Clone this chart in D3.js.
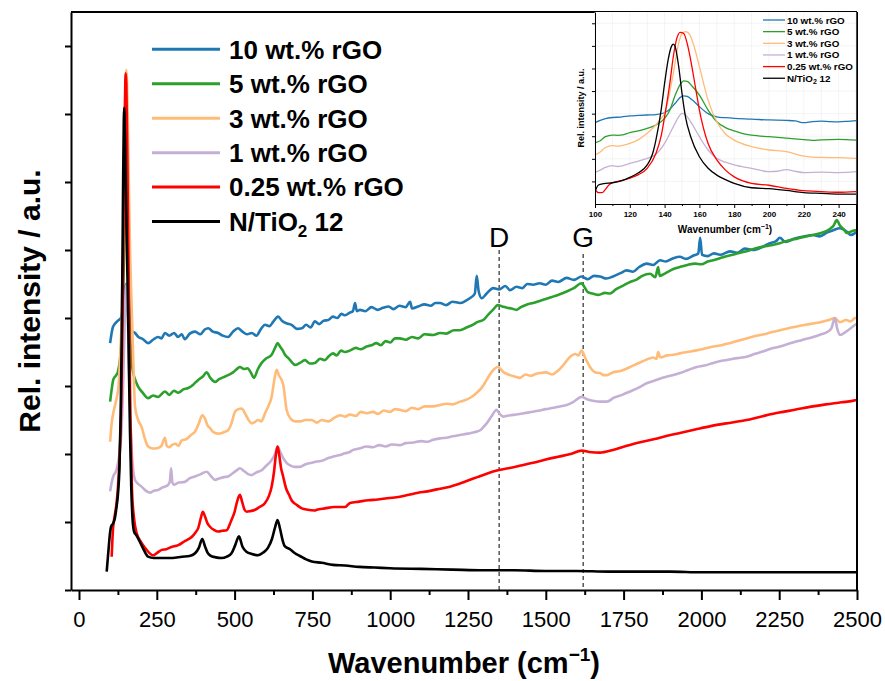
<!DOCTYPE html>
<html><head><meta charset="utf-8">
<script src="https://cdn.jsdelivr.net/npm/d3@7"></script>
<style>body{margin:0;background:#fff}svg{display:block}text{font-family:"Liberation Sans",Arial,Helvetica,sans-serif}</style>
</head><body><svg id="c" width="885" height="681"></svg>
<script>
// ---------------- DATA ----------------
const seriesNames = ["10 wt.% rGO","5 wt.% rGO","3 wt.% rGO","1 wt.% rGO","0.25 wt.% rGO","N/TiO2 12"];
const seriesColors = ["#1f77b4","#2ca02c","#ffbb78","#c5b0d5","#ff0000","#000000"];
const xTicks = [0,250,500,750,1000,1250,1500,1750,2000,2250,2500];
const xMinorTicks = [125,375,625,875,1125,1375,1625,1875,2125,2375];
const yTicks = [0,1,2,3,4,5,6,7,8];
const bandPositions = [1350,1620];
const bandLabels = ["D","G"];
const insetXTicks = [100,120,140,160,180,200,220,240];
const insetXMinorTicks = [110,130,150,170,190,210,230,250];
const insetYTicks = [1,2,3,4,5,6,7,8];

// main spectra: [wavenumber, relative intensity]
const spec10 = [[100,3.63],[108,3.85],[116,3.92],[125,3.96],[135,4.0],[142,4.2],[148,4.45],[152,4.5],[156,4.4],[161,4.1],[169,3.82],[180,3.78],[191,3.72],[205,3.69],[222,3.63],[238,3.68],[254,3.72],[265,3.7],[276,3.78],[290,3.74],[306,3.78],[318,3.72],[330,3.76],[340,3.69],[356,3.77],[373,3.8],[390,3.76],[404,3.83],[415,3.85],[430,3.8],[447,3.78],[462,3.74],[479,3.72],[495,3.8],[511,3.85],[525,3.8],[540,3.76],[555,3.78],[570,3.74],[585,3.84],[598,3.9],[612,3.88],[625,3.95],[640,4.02],[652,3.96],[668,3.92],[683,3.9],[700,3.84],[716,3.85],[730,3.9],[744,3.86],[758,3.95],[772,3.91],[786,3.96],[801,3.97],[816,4.02],[830,4.0],[843,4.06],[855,4.04],[870,4.08],[880,4.1],[887,4.22],[893,4.1],[903,4.12],[920,4.1],[940,4.16],[960,4.12],[977,4.15],[995,4.17],[1010,4.13],[1030,4.18],[1050,4.16],[1064,4.24],[1070,4.14],[1090,4.17],[1110,4.2],[1130,4.18],[1145,4.22],[1160,4.22],[1180,4.19],[1200,4.24],[1224,4.22],[1245,4.26],[1262,4.31],[1272,4.36],[1278,4.62],[1284,4.4],[1294,4.29],[1310,4.36],[1331,4.44],[1350,4.42],[1370,4.47],[1385,4.41],[1406,4.46],[1425,4.44],[1440,4.5],[1459,4.49],[1480,4.51],[1500,4.49],[1520,4.55],[1540,4.53],[1567,4.59],[1590,4.56],[1615,4.61],[1635,4.57],[1655,4.62],[1674,4.61],[1695,4.58],[1716,4.61],[1740,4.66],[1760,4.7],[1780,4.68],[1800,4.75],[1824,4.8],[1845,4.78],[1867,4.85],[1885,4.83],[1910,4.88],[1931,4.9],[1950,4.87],[1975,4.92],[1990,4.95],[1996,5.18],[2002,4.93],[2020,4.91],[2040,4.95],[2060,4.93],[2092,4.98],[2115,4.96],[2140,5.02],[2165,5.0],[2198,5.05],[2220,5.1],[2240,5.13],[2252,5.18],[2270,5.12],[2300,5.17],[2330,5.2],[2359,5.22],[2380,5.2],[2405,5.26],[2423,5.29],[2445,5.32],[2467,5.27],[2480,5.22],[2494,5.25],[2500,5.27]];
const spec5 = [[100,2.77],[105,2.95],[110,3.09],[118,3.15],[125,3.21],[132,3.4],[138,3.8],[143,4.6],[147,5.4],[150,5.8],[153,5.85],[156,5.4],[160,4.5],[165,3.7],[172,3.25],[180,3.1],[190,2.99],[205,2.9],[222,2.82],[238,2.86],[254,2.84],[265,2.88],[276,2.92],[290,2.87],[305,2.93],[319,2.9],[335,2.95],[351,2.97],[367,3.02],[383,3.09],[398,3.14],[410,3.2],[422,3.12],[437,3.06],[450,3.1],[465,3.13],[479,3.16],[495,3.2],[510,3.26],[517,3.28],[530,3.25],[541,3.26],[552,3.2],[562,3.12],[575,3.25],[587,3.34],[600,3.4],[619,3.46],[630,3.56],[638,3.63],[646,3.58],[655,3.52],[662,3.46],[675,3.4],[694,3.31],[710,3.34],[726,3.38],[742,3.33],[758,3.34],[775,3.4],[790,3.38],[801,3.43],[816,3.48],[828,3.45],[842,3.52],[855,3.5],[870,3.52],[890,3.56],[905,3.54],[924,3.58],[940,3.6],[955,3.63],[970,3.6],[985,3.66],[1000,3.64],[1015,3.7],[1031,3.7],[1050,3.68],[1070,3.72],[1090,3.7],[1110,3.76],[1138,3.75],[1160,3.78],[1180,3.77],[1205,3.82],[1224,3.82],[1245,3.86],[1265,3.9],[1280,3.94],[1299,3.97],[1315,4.05],[1330,4.12],[1346,4.19],[1360,4.17],[1375,4.15],[1390,4.14],[1406,4.12],[1420,4.16],[1440,4.2],[1459,4.22],[1480,4.25],[1500,4.28],[1520,4.31],[1545,4.35],[1567,4.39],[1590,4.44],[1615,4.51],[1625,4.45],[1635,4.38],[1650,4.36],[1670,4.34],[1690,4.37],[1706,4.36],[1725,4.42],[1750,4.48],[1771,4.53],[1790,4.56],[1810,4.62],[1835,4.65],[1852,4.6],[1861,4.75],[1866,4.62],[1885,4.66],[1910,4.72],[1931,4.75],[1955,4.78],[1980,4.8],[2000,4.79],[2020,4.83],[2038,4.85],[2060,4.88],[2090,4.92],[2115,4.95],[2145,4.98],[2170,5.02],[2200,5.05],[2225,5.07],[2252,5.1],[2280,5.14],[2310,5.17],[2335,5.2],[2359,5.22],[2385,5.25],[2410,5.3],[2425,5.36],[2435,5.44],[2445,5.36],[2458,5.3],[2467,5.25],[2480,5.27],[2494,5.29],[2500,5.3]];
const spec3 = [[100,2.18],[105,2.45],[110,2.6],[115,2.7],[120,2.8],[127,3.0],[132,3.4],[137,4.0],[141,4.9],[145,6.0],[148,7.0],[150,7.5],[152,7.65],[154,7.5],[157,6.9],[160,6.0],[164,5.0],[169,4.2],[175,3.3],[180,2.7],[190,2.5],[201,2.4],[212,2.22],[222,2.11],[238,2.08],[254,2.09],[265,2.12],[276,2.24],[282,2.12],[290,2.1],[298,2.13],[310,2.15],[320,2.12],[330,2.2],[345,2.22],[360,2.28],[373,2.33],[385,2.45],[396,2.57],[405,2.52],[413,2.42],[421,2.38],[432,2.32],[447,2.3],[460,2.31],[470,2.33],[479,2.35],[490,2.45],[501,2.62],[512,2.66],[523,2.67],[533,2.6],[545,2.5],[555,2.45],[565,2.47],[575,2.5],[586,2.48],[598,2.6],[608,2.7],[619,2.84],[628,3.1],[635,3.24],[643,3.15],[651,3.09],[657,3.0],[667,2.65],[680,2.52],[694,2.48],[710,2.48],[728,2.5],[748,2.5],[764,2.46],[780,2.5],[801,2.48],[820,2.53],[839,2.57],[855,2.55],[870,2.58],[890,2.56],[905,2.62],[924,2.6],[945,2.62],[960,2.59],[980,2.64],[1000,2.62],[1015,2.66],[1031,2.65],[1050,2.63],[1070,2.68],[1090,2.66],[1110,2.7],[1138,2.7],[1160,2.72],[1180,2.74],[1200,2.73],[1224,2.77],[1245,2.8],[1265,2.85],[1278,2.9],[1295,2.98],[1310,3.09],[1325,3.2],[1346,3.28],[1365,3.2],[1385,3.16],[1400,3.14],[1417,3.12],[1435,3.17],[1450,3.15],[1470,3.18],[1481,3.19],[1500,3.2],[1520,3.17],[1535,3.21],[1555,3.3],[1578,3.43],[1595,3.47],[1605,3.45],[1615,3.52],[1628,3.4],[1642,3.28],[1660,3.2],[1674,3.19],[1685,3.16],[1696,3.16],[1715,3.2],[1740,3.22],[1771,3.28],[1795,3.33],[1820,3.38],[1845,3.42],[1856,3.4],[1861,3.5],[1868,3.42],[1890,3.45],[1910,3.46],[1931,3.48],[1955,3.5],[1980,3.52],[2010,3.55],[2038,3.58],[2065,3.6],[2090,3.63],[2115,3.66],[2145,3.7],[2170,3.73],[2200,3.76],[2225,3.79],[2252,3.82],[2280,3.85],[2310,3.88],[2335,3.9],[2359,3.92],[2385,3.94],[2410,3.97],[2429,4.0],[2445,3.94],[2465,3.97],[2480,3.95],[2494,4.0],[2500,4.0]];
const spec1 = [[100,1.45],[105,1.58],[110,1.67],[120,1.76],[130,2.0],[136,2.3],[141,2.9],[145,3.6],[149,4.3],[152,4.5],[155,4.3],[159,3.6],[164,2.7],[170,2.0],[180,1.62],[190,1.56],[201,1.52],[212,1.47],[228,1.43],[240,1.46],[254,1.47],[265,1.5],[276,1.52],[287,1.55],[292,1.6],[296,1.79],[300,1.58],[305,1.55],[320,1.58],[340,1.59],[355,1.64],[373,1.67],[390,1.7],[410,1.74],[425,1.67],[437,1.62],[450,1.64],[465,1.66],[479,1.67],[495,1.72],[510,1.77],[517,1.79],[530,1.75],[545,1.7],[555,1.69],[570,1.73],[587,1.76],[600,1.82],[619,1.91],[630,2.0],[638,2.11],[646,2.04],[655,1.95],[667,1.87],[680,1.83],[694,1.81],[710,1.81],[728,1.85],[748,1.87],[764,1.89],[780,1.9],[801,1.94],[816,1.96],[835,1.98],[855,2.01],[870,2.03],[881,2.06],[900,2.08],[924,2.11],[945,2.1],[965,2.13],[985,2.11],[1005,2.14],[1031,2.13],[1050,2.16],[1075,2.17],[1100,2.19],[1120,2.18],[1138,2.21],[1160,2.23],[1180,2.24],[1200,2.26],[1224,2.28],[1250,2.3],[1270,2.32],[1289,2.35],[1300,2.4],[1310,2.45],[1325,2.55],[1342,2.65],[1350,2.6],[1364,2.55],[1385,2.57],[1405,2.58],[1430,2.6],[1459,2.62],[1480,2.64],[1500,2.66],[1525,2.68],[1545,2.7],[1567,2.72],[1590,2.77],[1615,2.84],[1635,2.8],[1655,2.78],[1674,2.77],[1696,2.77],[1720,2.83],[1745,2.87],[1771,2.92],[1800,2.98],[1824,3.04],[1850,3.08],[1875,3.12],[1900,3.15],[1931,3.19],[1960,3.24],[1985,3.28],[2010,3.3],[2038,3.34],[2065,3.37],[2090,3.39],[2115,3.41],[2145,3.43],[2170,3.47],[2200,3.51],[2225,3.55],[2252,3.58],[2280,3.62],[2310,3.66],[2335,3.69],[2359,3.72],[2385,3.76],[2407,3.8],[2418,3.85],[2429,4.0],[2436,3.85],[2445,3.75],[2465,3.8],[2480,3.85],[2494,3.9],[2500,3.92]];
const spec025 = [[105,0.49],[109,0.88],[115,1.1],[120,1.25],[125,1.5],[130,1.9],[135,2.6],[140,4.0],[143,5.3],[146,6.7],[149,7.5],[150,7.6],[152,7.45],[155,6.5],[158,5.2],[161,4.0],[165,2.6],[170,1.5],[177,1.05],[185,0.84],[200,0.7],[212,0.62],[225,0.55],[238,0.51],[252,0.55],[266,0.59],[280,0.6],[295,0.63],[319,0.66],[340,0.72],[362,0.78],[375,0.85],[383,0.91],[391,1.05],[398,1.15],[405,1.08],[413,0.98],[421,0.93],[435,0.88],[447,0.86],[460,0.87],[475,0.88],[483,0.95],[490,1.03],[500,1.15],[508,1.3],[517,1.4],[524,1.3],[532,1.18],[539,1.15],[550,1.16],[566,1.18],[580,1.22],[598,1.28],[610,1.38],[619,1.52],[627,1.75],[633,2.0],[638,2.11],[643,2.0],[649,1.8],[656,1.67],[665,1.5],[675,1.4],[683,1.32],[700,1.25],[716,1.2],[735,1.18],[758,1.17],[764,1.18],[790,1.2],[820,1.22],[855,1.22],[871,1.28],[900,1.3],[930,1.32],[960,1.33],[990,1.35],[1031,1.37],[1060,1.4],[1090,1.43],[1120,1.45],[1150,1.48],[1192,1.52],[1220,1.56],[1250,1.61],[1280,1.66],[1310,1.71],[1346,1.76],[1380,1.79],[1420,1.83],[1459,1.87],[1500,1.92],[1540,1.96],[1580,2.0],[1615,2.05],[1640,2.03],[1674,2.02],[1716,2.06],[1760,2.12],[1800,2.17],[1850,2.22],[1890,2.27],[1931,2.31],[1980,2.36],[2030,2.41],[2080,2.45],[2145,2.5],[2200,2.56],[2250,2.61],[2300,2.65],[2359,2.7],[2400,2.73],[2450,2.76],[2494,2.79],[2500,2.8]];
const specN12 = [[89,0.27],[95,0.6],[100,0.85],[103,0.93],[110,0.98],[115,1.05],[120,1.2],[125,1.4],[130,1.8],[134,2.6],[137,3.6],[140,5.0],[142,6.1],[144,6.9],[145,7.09],[146,7.0],[148,6.6],[151,5.8],[154,5.0],[157,4.3],[160,3.4],[164,2.3],[168,1.5],[172,1.05],[177,0.86],[185,0.8],[190,0.76],[205,0.62],[222,0.49],[240,0.47],[266,0.47],[300,0.47],[331,0.49],[355,0.5],[373,0.54],[385,0.62],[396,0.75],[405,0.64],[413,0.55],[421,0.51],[440,0.48],[458,0.47],[475,0.49],[490,0.54],[502,0.66],[514,0.79],[525,0.64],[539,0.56],[555,0.53],[575,0.51],[592,0.55],[607,0.62],[620,0.75],[630,0.92],[638,1.03],[646,0.9],[655,0.72],[662,0.64],[678,0.6],[694,0.54],[710,0.5],[730,0.45],[748,0.42],[780,0.4],[816,0.37],[855,0.36],[900,0.34],[950,0.33],[1000,0.32],[1100,0.31],[1200,0.3],[1300,0.29],[1400,0.29],[1500,0.28],[1600,0.28],[1700,0.27],[1800,0.27],[1900,0.27],[2000,0.26],[2100,0.26],[2200,0.26],[2300,0.26],[2400,0.26],[2500,0.26]];

// inset (100-250 cm-1) spectra
const inset10 = [[100,3.6],[103,3.7],[106,3.78],[110,3.83],[115,3.85],[120,3.9],[125,3.92],[130,3.94],[135,3.96],[140,4.04],[143,4.2],[146,4.45],[149,4.72],[151,4.79],[153,4.76],[156,4.6],[160,4.31],[165,4.0],[170,3.86],[175,3.82],[180,3.79],[190,3.76],[200,3.72],[210,3.7],[215,3.68],[220,3.6],[225,3.65],[230,3.67],[235,3.65],[240,3.64],[245,3.66],[250,3.69]];
const inset5 = [[100,2.71],[103,2.8],[106,2.98],[110,3.05],[113,3.04],[116,3.06],[120,3.16],[125,3.24],[130,3.35],[135,3.5],[140,3.79],[143,4.15],[146,4.8],[149,5.3],[151,5.45],[153,5.43],[156,5.2],[160,4.82],[165,4.16],[170,3.64],[175,3.38],[180,3.24],[185,3.12],[190,3.05],[200,2.98],[210,2.92],[220,2.85],[225,2.82],[230,2.84],[240,2.86],[250,2.83]];
const inset3 = [[100,2.17],[103,2.3],[106,2.5],[110,2.58],[113,2.56],[116,2.6],[120,2.68],[125,2.85],[130,3.13],[135,3.5],[138,3.8],[140,4.01],[142,4.6],[145,5.78],[148,7.1],[150,7.55],[152,7.63],[154,7.55],[157,6.96],[160,6.08],[165,4.6],[170,3.64],[175,3.1],[180,2.83],[190,2.54],[200,2.39],[210,2.32],[220,2.12],[230,2.06],[240,2.05],[250,2.02]];
const inset1 = [[100,1.4],[103,1.5],[106,1.62],[110,1.7],[113,1.66],[116,1.7],[120,1.8],[125,1.9],[130,2.02],[135,2.2],[140,2.68],[145,3.42],[148,3.85],[150,4.01],[152,3.95],[155,3.64],[160,2.98],[165,2.39],[170,2.02],[175,1.85],[180,1.73],[190,1.58],[200,1.43],[205,1.45],[210,1.52],[215,1.45],[220,1.39],[230,1.41],[240,1.39],[250,1.43]];
const inset025 = [[100,0.65],[102,0.5],[104,0.5],[106,0.65],[108,0.84],[110,0.94],[115,1.03],[120,1.14],[125,1.3],[130,1.58],[135,2.24],[138,3.0],[140,3.86],[143,5.34],[145,6.52],[147,7.33],[149,7.6],[151,7.55],[153,7.1],[155,6.37],[158,5.04],[160,4.16],[165,2.68],[170,1.95],[175,1.5],[180,1.2],[185,1.02],[190,0.91],[200,0.83],[210,0.69],[220,0.59],[230,0.55],[240,0.52],[250,0.55]];
const insetN12 = [[100,0.55],[102,0.84],[105,0.9],[110,0.94],[115,1.02],[120,1.18],[125,1.38],[130,1.73],[133,2.2],[135,2.83],[138,4.16],[140,5.34],[142,6.37],[144,6.99],[145,7.08],[146,6.98],[148,6.14],[150,4.9],[152,3.86],[155,2.98],[160,2.09],[165,1.58],[170,1.28],[175,1.08],[180,0.91],[190,0.72],[200,0.68],[210,0.6],[220,0.5],[230,0.47],[240,0.44],[250,0.44]];

const mainSpectra = [spec10, spec5, spec3, spec1, spec025, specN12];
const insetSpectra = [inset10, inset5, inset3, inset1, inset025, insetN12];

// ---------------- DRAW ----------------
const svg = d3.select("#c");
const FF = '"Liberation Sans",Arial,Helvetica,sans-serif';
const x = d3.scaleLinear().domain([-25.7, 2500]).range([71, 857]);
const y = d3.scaleLinear().domain([0, 8.5]).range([590, 12]);

// D / G guide lines
bandPositions.forEach((b, i) => {
  const top = i === 0 ? 250 : 254;
  svg.append("line").attr("x1", x(b)).attr("x2", x(b)).attr("y1", top).attr("y2", y(0))
    .attr("stroke", "#000").attr("stroke-width", 1).attr("stroke-dasharray", "4,3");
  svg.append("text").attr("x", x(b)).attr("y", 247).attr("text-anchor", "middle")
    .attr("font-size", 28).attr("fill", "#000").text(bandLabels[i]);
});

const line = d3.line().x(d => x(d[0])).y(d => y(d[1])).curve(d3.curveMonotoneX);
mainSpectra.forEach((s, i) => {
  svg.append("path").datum(s).attr("d", line).attr("fill", "none")
    .attr("stroke", seriesColors[i]).attr("stroke-width", 2.6).attr("stroke-linejoin", "round");
});

// axes
const gx = svg.append("g").attr("transform", `translate(0,${y(0)})`)
  .call(d3.axisBottom(x).tickValues(xTicks).tickSize(10).tickSizeOuter(0).tickPadding(11).tickFormat(d3.format("d")));
gx.attr("font-family", FF);
gx.selectAll("text").attr("font-size", 22).attr("fill", "#000");
gx.selectAll("line").attr("stroke", "#000").attr("stroke-width", 2);
gx.select(".domain").attr("stroke", "#000").attr("stroke-width", 2);
const gxm = svg.append("g").attr("transform", `translate(0,${y(0)})`)
  .call(d3.axisBottom(x).tickValues(xMinorTicks).tickSize(5).tickSizeOuter(0).tickFormat(""));
gxm.selectAll("line").attr("stroke", "#000").attr("stroke-width", 2);
gxm.select(".domain").remove();

const gy = svg.append("g").attr("transform", `translate(${x.range()[0]},0)`)
  .call(d3.axisLeft(y).tickValues(yTicks).tickSize(6).tickSizeOuter(0).tickFormat(""));
gy.selectAll("line").attr("stroke", "#000").attr("stroke-width", 2);
gy.select(".domain").attr("stroke", "#000").attr("stroke-width", 2);
// frame top and right
svg.append("line").attr("x1", x.range()[0]).attr("x2", x.range()[1]).attr("y1", y(8.5)).attr("y2", y(8.5)).attr("stroke", "#000").attr("stroke-width", 2);
svg.append("line").attr("x1", x.range()[1]).attr("x2", x.range()[1]).attr("y1", y(8.5)).attr("y2", y(0)).attr("stroke", "#000").attr("stroke-width", 2);

// axis titles
const xt = svg.append("text").attr("x", 464).attr("y", 673).attr("text-anchor", "middle")
  .attr("font-size", 29).attr("font-weight", "bold").attr("fill", "#000");
xt.append("tspan").text("Wavenumber (cm");
xt.append("tspan").attr("font-size", 19).attr("dy", -12).text("\u22121");
xt.append("tspan").attr("dy", 12).text(")");
svg.append("text").attr("transform", "translate(40,301) rotate(-90)").attr("text-anchor", "middle")
  .attr("font-size", 30).attr("font-weight", "bold").attr("fill", "#000").text("Rel. intensity / a.u.");

// legend helper
function legend(g, x0, x1, tx, y0, dy, fs, sw, subFs, subDy) {
  seriesNames.forEach((n, i) => {
    const yy = y0 + i * dy;
    g.append("line").attr("x1", x0).attr("x2", x1).attr("y1", yy).attr("y2", yy)
      .attr("stroke", seriesColors[i]).attr("stroke-width", sw);
    const t = g.append("text").attr("x", tx).attr("y", yy + fs * 0.36).attr("font-size", fs)
      .attr("font-weight", "bold").attr("fill", "#000");
    const m = n.match(/^(N\/TiO)2( 12)$/);
    if (m) {
      t.append("tspan").text(m[1]);
      t.append("tspan").attr("font-size", subFs).attr("dy", subDy).text("2");
      t.append("tspan").attr("dy", -subDy).text(m[2]);
    } else t.text(n);
  });
}
legend(svg, 152, 220, 229, 49.3, 34.45, 26, 3, 17, 6);

// ---------------- INSET ----------------
const ix = d3.scaleLinear().domain([100, 250]).range([595, 856]);
const iy = d3.scaleLinear().domain([0, 8.5]).range([204, 12]);
svg.append("rect").attr("x", ix(100)).attr("y", iy(8.5)).attr("width", ix(250) - ix(100)).attr("height", iy(0) - iy(8.5)).attr("fill", "#fff");
const grid = svg.append("g");
insetXTicks.concat(insetXMinorTicks).forEach(t => {
  grid.append("line").attr("x1", ix(t)).attr("x2", ix(t)).attr("y1", iy(0)).attr("y2", iy(8.5)).attr("stroke", "#ececec").attr("stroke-width", 0.6);
});
insetYTicks.forEach(t => {
  grid.append("line").attr("x1", ix(100)).attr("x2", ix(250)).attr("y1", iy(t)).attr("y2", iy(t)).attr("stroke", "#ececec").attr("stroke-width", 0.6);
});
svg.append("clipPath").attr("id", "ic").append("rect").attr("x", ix(100)).attr("y", iy(8.5)).attr("width", ix(250) - ix(100)).attr("height", iy(0) - iy(8.5));
const iline = d3.line().x(d => ix(d[0])).y(d => iy(d[1])).curve(d3.curveMonotoneX);
const ig = svg.append("g").attr("clip-path", "url(#ic)");
insetSpectra.forEach((s, i) => {
  ig.append("path").datum(s).attr("d", iline).attr("fill", "none")
    .attr("stroke", seriesColors[i]).attr("stroke-width", 1.3);
});
const igx = svg.append("g").attr("transform", `translate(0,${iy(0)})`)
  .call(d3.axisBottom(ix).tickValues(insetXTicks).tickSize(4).tickSizeOuter(0).tickPadding(3).tickFormat(d3.format("d")));
igx.attr("font-family", FF);
igx.selectAll("text").attr("font-size", 8).attr("font-weight", "bold").attr("fill", "#000");
igx.selectAll("line").attr("stroke", "#000").attr("stroke-width", 1);
igx.select(".domain").attr("stroke", "#000").attr("stroke-width", 1);
const igxm = svg.append("g").attr("transform", `translate(0,${iy(0)})`)
  .call(d3.axisBottom(ix).tickValues(insetXMinorTicks).tickSize(2).tickSizeOuter(0).tickFormat(""));
igxm.selectAll("line").attr("stroke", "#000").attr("stroke-width", 1);
igxm.select(".domain").remove();
const igy = svg.append("g").attr("transform", `translate(${ix(100)},0)`)
  .call(d3.axisLeft(iy).tickValues(insetYTicks).tickSize(3).tickSizeOuter(0).tickFormat(""));
igy.selectAll("line").attr("stroke", "#000").attr("stroke-width", 1);
igy.select(".domain").attr("stroke", "#000").attr("stroke-width", 1);

const ixt = svg.append("text").attr("x", 725).attr("y", 233).attr("text-anchor", "middle")
  .attr("font-size", 10).attr("font-weight", "bold").attr("fill", "#000");
ixt.append("tspan").text("Wavenumber (cm");
ixt.append("tspan").attr("font-size", 7).attr("dy", -4).text("\u22121");
ixt.append("tspan").attr("dy", 4).text(")");
svg.append("text").attr("transform", "translate(584,108) rotate(-90)").attr("text-anchor", "middle")
  .attr("font-size", 9).attr("font-weight", "bold").attr("fill", "#000").text("Rel. intensity / a.u.");
legend(svg, 763, 785, 787, 20, 11.65, 9.8, 1.3, 7, 2.5);
</script></body></html>
